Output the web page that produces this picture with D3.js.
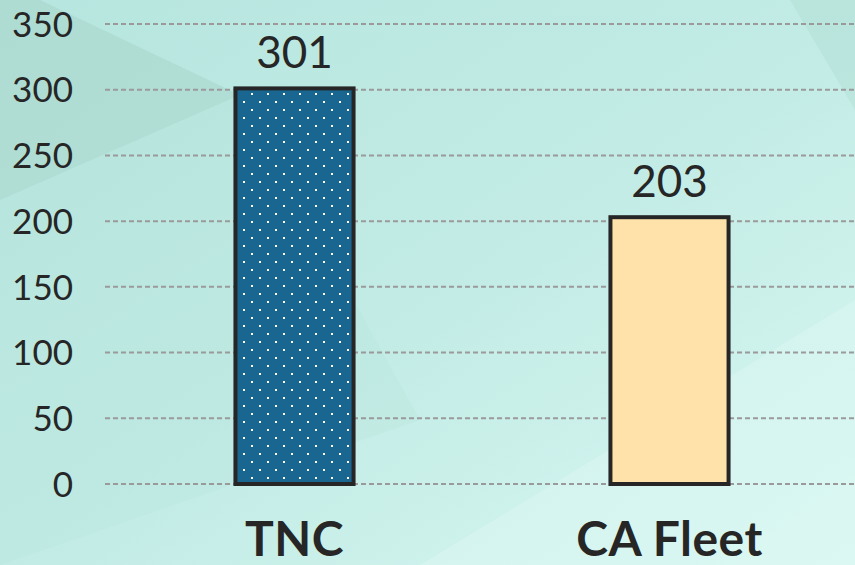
<!DOCTYPE html>
<html><head><meta charset="utf-8">
<script src="https://cdn.jsdelivr.net/npm/d3@7"></script>
<style>body{margin:0;overflow:hidden}svg{display:block}</style>
</head><body>
<svg id="c" width="855" height="565"></svg>
<script>
const categories = ["TNC", "CA Fleet"];
const values = [301, 203];
const tickValues = [0, 50, 100, 150, 200, 250, 300, 350];

const W = 855, H = 565;
const svg = d3.select("#c");
const defs = svg.append("defs");

const bg = defs.append("linearGradient").attr("id","bg").attr("x1","0").attr("y1","0").attr("x2","1").attr("y2","1");
bg.append("stop").attr("offset","0").attr("stop-color","#b6e6df");
bg.append("stop").attr("offset","0.5").attr("stop-color","#c2ebe5");
bg.append("stop").attr("offset","1").attr("stop-color","#d8f7f2");

const pat = defs.append("pattern").attr("id","dots").attr("patternUnits","userSpaceOnUse")
  .attr("width",16).attr("height",16).attr("x",0).attr("y",2);
pat.append("rect").attr("width",16).attr("height",16).attr("fill","#196690");
pat.append("rect").attr("x",3).attr("y",3).attr("width",2).attr("height",2).attr("fill","#ffffff");
pat.append("rect").attr("x",11).attr("y",11).attr("width",2).attr("height",2).attr("fill","#ffffff");

svg.append("rect").attr("width",W).attr("height",H).attr("fill","url(#bg)");
// subtle background shapes
svg.append("path").attr("d","M0,0 L40,0 L240,95 L0,200 Z").attr("fill","#a4d0c6").attr("opacity",0.45);
svg.append("path").attr("d","M0,200 L240,95 L420,420 L0,565 Z").attr("fill","#b0e0d8").attr("opacity",0.2);
svg.append("path").attr("d","M790,0 L855,0 L855,110 Z").attr("fill","#a9d9cf").attr("opacity",0.35);
svg.append("path").attr("d","M420,565 L855,300 L855,565 Z").attr("fill","#e0fbf6").attr("opacity",0.4);

const y = d3.scaleLinear().domain([0,350]).range([484,24]);
const x = d3.scaleBand().domain(categories).range([107,857]).paddingInner(0.685).paddingOuter(0.3425);

// grid
svg.append("g").selectAll("line").data(tickValues).join("line")
  .attr("x1",105).attr("x2",W).attr("y1",d=>y(d)).attr("y2",d=>y(d))
  .attr("stroke","#9a9a9a").attr("stroke-width",2).attr("stroke-dasharray","5,3");

// y axis labels
const yAxis = d3.axisLeft(y).tickValues(tickValues).tickSize(0).tickPadding(0);
const ga = svg.append("g").attr("transform","translate(73,0)").call(yAxis);
ga.select(".domain").remove();
ga.selectAll("text").attr("font-family","Lato, 'Open Sans', sans-serif").attr("font-size",35)
  .attr("fill","#262626").attr("dy","0.35em");

// bars
const fills = ["url(#dots)", "#fee2a9"];
svg.append("g").selectAll("rect").data(values).join("rect")
  .attr("x",(d,i)=>x(categories[i])).attr("width",x.bandwidth())
  .attr("y",d=>y(d)).attr("height",d=>y(0)-y(d))
  .attr("fill",(d,i)=>fills[i]).attr("stroke","#262626").attr("stroke-width",4);

// value labels
svg.append("g").selectAll("text").data(values).join("text")
  .attr("x",(d,i)=>x(categories[i])+x.bandwidth()/2).attr("y",d=>y(d)-20)
  .attr("text-anchor","middle").attr("font-family","Lato, 'Open Sans', sans-serif")
  .attr("font-size",44).attr("fill","#262626").text(d=>d);

// category labels
const xAxis = d3.axisBottom(x).tickSize(0).tickPadding(0);
const gx = svg.append("g").attr("transform","translate(0,556)").call(xAxis);
gx.select(".domain").remove();
gx.selectAll("text").attr("dy",0).attr("font-family","Lato, 'Open Sans', sans-serif").attr("font-weight","bold")
  .attr("font-size",48).attr("letter-spacing","0.5px").attr("fill","#262626");
</script>
</body></html>
